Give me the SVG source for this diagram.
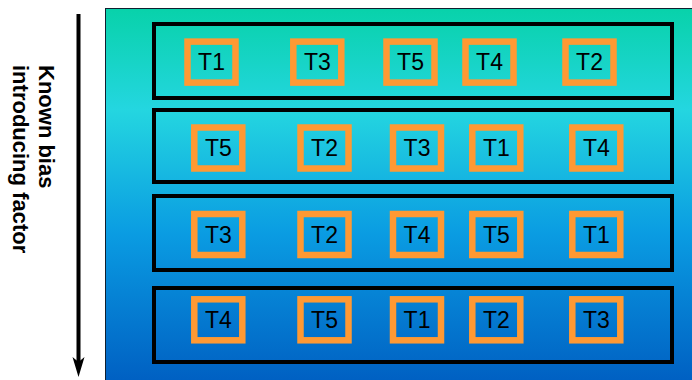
<svg xmlns="http://www.w3.org/2000/svg" width="692" height="380" viewBox="0 0 692 380">
<defs>
<linearGradient id="bg" x1="0" y1="0" x2="0" y2="1">
<stop offset="0" stop-color="#08d2aa"/>
<stop offset="0.27" stop-color="#24d6e0"/>
<stop offset="0.6" stop-color="#0a9ce2"/>
<stop offset="1" stop-color="#005fc2"/>
</linearGradient>
<style>
.row{fill:none;stroke:#000;stroke-width:4}
.t{fill:none;stroke:#ff9933;stroke-width:6.5}
.lbl{font-family:"Liberation Sans",Arial,sans-serif;font-size:23px;fill:#000;text-anchor:middle}
.side{font-family:"Liberation Sans",Arial,sans-serif;font-size:22px;font-weight:bold;fill:#000}
</style>
</defs>
<rect x="105.5" y="8.5" width="590" height="375" fill="url(#bg)" stroke="#102030" stroke-width="1"/>
<g id="axis">
<line x1="78.5" y1="14" x2="78.5" y2="364" stroke="#000" stroke-width="4"/>
<path d="M72.5,357 L78.5,377 L84.5,357 L78.5,362 Z" fill="#000"/>
<g transform="translate(39,65) rotate(90)">
<text class="side" x="0" y="0">Known bias</text>
<text class="side" x="0" y="26">introducing factor</text>
</g>
</g>
<g id="row1">
<rect class="row" x="154" y="24" width="518" height="74"/>
<g id="r1t1"><rect class="t" x="187.5" y="41.6" width="48" height="41"/><text class="lbl" x="211.5" y="70.3">T1</text></g>
<g id="r1t3"><rect class="t" x="293.3" y="41.6" width="48" height="41"/><text class="lbl" x="317.3" y="70.3">T3</text></g>
<g id="r1t5"><rect class="t" x="386.5" y="41.6" width="48" height="41"/><text class="lbl" x="410.5" y="70.3">T5</text></g>
<g id="r1t4"><rect class="t" x="465.5" y="41.6" width="48" height="41"/><text class="lbl" x="489.5" y="70.3">T4</text></g>
<g id="r1t2"><rect class="t" x="565.5" y="41.6" width="48" height="41"/><text class="lbl" x="589.5" y="70.3">T2</text></g>
</g>
<g id="row2">
<rect class="row" x="154" y="110" width="518" height="72"/>
<g id="r2t5"><rect class="t" x="194.3" y="127.5" width="48" height="41"/><text class="lbl" x="218.3" y="156.2">T5</text></g>
<g id="r2t2"><rect class="t" x="300.5" y="127.5" width="48" height="41"/><text class="lbl" x="324.5" y="156.2">T2</text></g>
<g id="r2t3"><rect class="t" x="393" y="127.5" width="48" height="41"/><text class="lbl" x="417" y="156.2">T3</text></g>
<g id="r2t1"><rect class="t" x="472.3" y="127.5" width="48" height="41"/><text class="lbl" x="496.3" y="156.2">T1</text></g>
<g id="r2t4"><rect class="t" x="572.3" y="127.5" width="48" height="41"/><text class="lbl" x="596.3" y="156.2">T4</text></g>
</g>
<g id="row3">
<rect class="row" x="154" y="196" width="518" height="74"/>
<g id="r3t3"><rect class="t" x="194.3" y="214" width="48" height="41"/><text class="lbl" x="218.3" y="242.7">T3</text></g>
<g id="r3t2"><rect class="t" x="300.5" y="214" width="48" height="41"/><text class="lbl" x="324.5" y="242.7">T2</text></g>
<g id="r3t4"><rect class="t" x="393" y="214" width="48" height="41"/><text class="lbl" x="417" y="242.7">T4</text></g>
<g id="r3t5"><rect class="t" x="472.3" y="214" width="48" height="41"/><text class="lbl" x="496.3" y="242.7">T5</text></g>
<g id="r3t1"><rect class="t" x="572.3" y="214" width="48" height="41"/><text class="lbl" x="596.3" y="242.7">T1</text></g>
</g>
<g id="row4">
<rect class="row" x="154" y="288" width="518" height="74"/>
<g id="r4t4"><rect class="t" x="194.3" y="299.3" width="48" height="41"/><text class="lbl" x="218.3" y="328">T4</text></g>
<g id="r4t5"><rect class="t" x="300.5" y="299.3" width="48" height="41"/><text class="lbl" x="324.5" y="328">T5</text></g>
<g id="r4t1"><rect class="t" x="393" y="299.3" width="48" height="41"/><text class="lbl" x="417" y="328">T1</text></g>
<g id="r4t2"><rect class="t" x="472.3" y="299.3" width="48" height="41"/><text class="lbl" x="496.3" y="328">T2</text></g>
<g id="r4t3"><rect class="t" x="572.3" y="299.3" width="48" height="41"/><text class="lbl" x="596.3" y="328">T3</text></g>
</g>
</svg>
